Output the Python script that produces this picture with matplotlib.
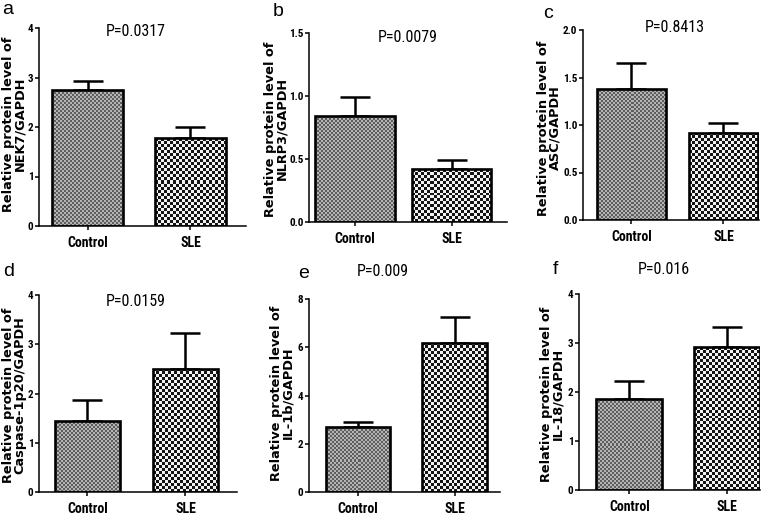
import numpy as np
import matplotlib
matplotlib.use('Agg')
import matplotlib.pyplot as plt
from matplotlib.colors import ListedColormap
from matplotlib import font_manager

# values
panel_letters = ['a', 'b', 'c', 'd', 'e', 'f']
proteins = ['NEK7', 'NLRP3', 'ASC', 'Caspase-1p20', 'IL-1b', 'IL-18']
groups = ['Control', 'SLE']
control_mean = [2.74, 0.84, 1.38, 1.45, 2.69, 1.85]
control_err = [0.19, 0.15, 0.27, 0.41, 0.20, 0.38]
sle_mean = [1.77, 0.42, 0.92, 2.50, 6.18, 2.91]
sle_err = [0.22, 0.07, 0.10, 0.73, 1.08, 0.42]
p_values = ['0.0317', '0.0079', '0.8413', '0.0159', '0.009', '0.016']
y_max = [4, 1.5, 2.0, 4, 8, 4]
y_step = [1, 0.5, 0.5, 1, 2, 1]

W, H = 778, 515

# axes box in pixels (left, top, right, bottom), x limits, bar width
layout = [
    ((39, 28, 246, 226), (-0.471, 1.539), 0.69),
    ((309, 33, 507, 222), (-0.477, 1.575), 0.82),
    ((583, 30, 759, 220), (-0.527, 1.386), 0.74),
    ((39, 295, 237, 492), (-0.495, 1.526), 0.67),
    ((309, 299, 500, 492), (-0.508, 1.470), 0.67),
    ((579, 294, 760, 490), (-0.520, 1.345), 0.68),
]
letter_pos = [(8, 10), (278, 12), (548, 13), (9, 272), (304, 273), (555, 270)]
p_pos = [(136, 32), (408, 37), (675, 28), (136, 302), (383, 272), (664, 270)]
ylabel_pos = [(14, 124), (276, 129), (549, 128), (14, 395), (282, 393), (552, 394)]

# pick a narrow face for the ticks, if one is installed
ttf = font_manager.fontManager.ttflist
names = {f.name for f in ttf}
narrow = {'family': ['DejaVu Sans']}
for n in ['Liberation Sans Narrow', 'Arial Narrow', 'Roboto Condensed',
          'Open Sans Condensed', 'DejaVu Sans Condensed']:
    if n in names:
        narrow = {'family': [n, 'DejaVu Sans']}
        break
else:
    for f in ttf:
        if 'ondensed' in str(f.stretch) or f.stretch in ('condensed', 'semi-condensed'):
            narrow = {'family': [f.name, 'DejaVu Sans'], 'stretch': f.stretch}
            break
label_font = ['Liberation Sans', 'DejaVu Sans']


def checker_fill(ax, patch, cell_px, c1, c2):
    x0, y0 = patch.get_x(), patch.get_y()
    w, h = patch.get_width(), patch.get_height()
    p0 = ax.transData.transform((x0, y0))
    p1 = ax.transData.transform((x0 + w, y0 + h))
    nx = max(1, int(round((p1[0] - p0[0]) / cell_px)))
    ny = max(1, int(round((p1[1] - p0[1]) / cell_px)))
    arr = np.add.outer(np.arange(ny), np.arange(nx)) % 2
    im = ax.imshow(arr, cmap=ListedColormap([c1, c2]), extent=(x0, x0 + w, y0, y0 + h),
                   aspect='auto', interpolation='nearest', zorder=1.5)
    im.set_clip_path(patch)


def narrow_text(t, size, weight='normal'):
    t.set_fontfamily(narrow['family'])
    if 'stretch' in narrow:
        t.set_fontstretch(narrow['stretch'])
    t.set_fontsize(size)
    t.set_fontweight(weight)


fig = plt.figure(figsize=(W / 100, H / 100), dpi=100)

for i in range(6):
    (l, t, r, b), xlim, bw = layout[i]
    ax = fig.add_axes([l / W, 1 - b / H, (r - l) / W, (b - t) / H])
    means = [control_mean[i], sle_mean[i]]
    errs = [control_err[i], sle_err[i]]
    x = np.arange(2)

    ax.errorbar(x, means, yerr=[np.zeros(2), errs], fmt='none', ecolor='black',
                elinewidth=1.8, capsize=11, capthick=1.8, zorder=1)
    bars = ax.bar(x, means, width=bw, facecolor='none', edgecolor='black',
                  linewidth=1.9, zorder=2)
    ax.set_xlim(*xlim)
    ax.set_ylim(0, y_max[i])

    checker_fill(ax, bars[0], 2, '#5e5e5e', '#b4b4b4')
    checker_fill(ax, bars[1], 3, '#141414', '#f2f2f2')
    ax.set_xlim(*xlim)
    ax.set_ylim(0, y_max[i])

    for s in ['top', 'right']:
        ax.spines[s].set_visible(False)
    for s in ['left', 'bottom']:
        ax.spines[s].set_linewidth(1.1)

    ax.set_xticks(x)
    ax.set_xticklabels(groups)
    ticks = np.arange(0, y_max[i] + 1e-9, y_step[i])
    ax.set_yticks(ticks)
    if y_step[i] < 1:
        ax.set_yticklabels([f'{v:.1f}' for v in ticks])
    else:
        ax.set_yticklabels([f'{v:.0f}' for v in ticks])
    for lab in ax.get_xticklabels():
        narrow_text(lab, 10, 'bold')
    for lab in ax.get_yticklabels():
        narrow_text(lab, 8, 'bold')
    ax.tick_params(axis='both', direction='out', width=1.1, length=3, pad=1)
    ax.tick_params(axis='x', pad=4)

    fig.text(ylabel_pos[i][0] / W, 1 - ylabel_pos[i][1] / H,
             'Relative protein level of\n' + proteins[i] + '/GAPDH',
             rotation=90, ha='center', va='center', multialignment='center',
             fontfamily='DejaVu Sans', fontweight='bold', fontsize=9.3, linespacing=0.85)

    fig.text(letter_pos[i][0] / W, 1 - letter_pos[i][1] / H, panel_letters[i],
             fontsize=14, ha='center', va='center', fontfamily=label_font)
    pt = fig.text(p_pos[i][0] / W, 1 - p_pos[i][1] / H, 'P=' + p_values[i],
                  ha='center', va='center')
    narrow_text(pt, 11.5)

fig.savefig('out.png', dpi=100)
